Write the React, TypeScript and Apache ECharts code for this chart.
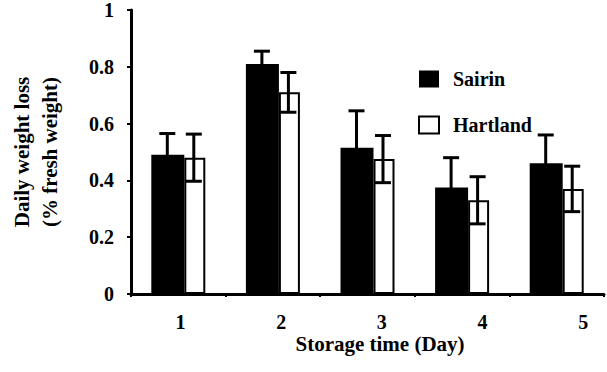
import React, { useEffect, useRef } from "react";
import * as echarts from "echarts";

// Storage days and daily weight loss (% fresh weight) per cultivar
const days = ["1", "2", "3", "4", "5"];
const sairin = [0.49, 0.81, 0.515, 0.375, 0.46];
const sairinErr = [0.075, 0.045, 0.13, 0.105, 0.1];
const hartland = [0.48, 0.71, 0.475, 0.33, 0.37];
const hartlandErr = [0.083, 0.07, 0.083, 0.083, 0.08];
// Y tick labels: the zero label sits on its tick, the others a little below theirs
const yZeroTick = [0];
const yUpperTicks = [0.2, 0.4, 0.6, 0.8, 1];

const FONT = "Liberation Serif";

function errorSeries(name: string, vals: number[], errs: number[], offset: number) {
  const data = vals.map((v, i) => [i, v - errs[i], v + errs[i]]);
  return {
    type: "custom",
    name: name + " SE",
    xAxisIndex: 0,
    yAxisIndex: 0,
    z: 10,
    silent: true,
    data,
    renderItem: (_params: any, api: any) => {
      const idx = api.value(0);
      const x = api.coord([idx, 0])[0] + offset;
      const yLow = api.coord([idx, api.value(1)])[1];
      const yHigh = api.coord([idx, api.value(2)])[1];
      const half = 8;
      const style = { stroke: "#000", lineWidth: 3 };
      return {
        type: "group",
        children: [
          { type: "line", shape: { x1: x, y1: yLow, x2: x, y2: yHigh }, style },
          { type: "line", shape: { x1: x - half, y1: yHigh, x2: x + half, y2: yHigh }, style },
          { type: "line", shape: { x1: x - half, y1: yLow, x2: x + half, y2: yLow }, style },
        ],
      };
    },
  };
}

export default function App() {
  const ref = useRef<HTMLDivElement>(null);

  useEffect(() => {
    if (!ref.current) return;
    const chart = echarts.init(ref.current, undefined, { renderer: "svg" });
    const labelStyle = { fontFamily: FONT, fontWeight: "bold", fontSize: 20, color: "#000" };
    // Day labels sit on a value scale of their own (0.5074 .. 5.207 across the plot width)
    const labelMin = 0.5074;
    const labelMax = 5.207;
    chart.setOption({
      animation: false,
      backgroundColor: "#fff",
      textStyle: { fontFamily: FONT },
      legend: {
        orient: "vertical",
        left: 418,
        top: 69,
        padding: 0,
        itemWidth: 20,
        itemHeight: 17,
        itemGap: 26,
        selectedMode: false,
        textStyle: { ...labelStyle, padding: [0, 0, 0, 9] },
        data: [
          { name: "Sairin", icon: "rect", itemStyle: { color: "#000", borderWidth: 0 } },
          { name: "Hartland", icon: "rect", itemStyle: { color: "#fff", borderColor: "#000", borderWidth: 2 } },
        ],
      },
      grid: { left: 127, right: 3, top: 8, bottom: 78, containLabel: false },
      xAxis: [
        {
          type: "category",
          data: days,
          axisLine: { lineStyle: { color: "#000", width: 3 } },
          axisTick: { show: true, length: 3, lineStyle: { color: "#000", width: 2 } },
          axisLabel: { show: false },
          name: "Storage time (Day)",
          nameLocation: "middle",
          nameGap: 39,
          nameTextStyle: {
            fontFamily: FONT,
            fontWeight: "bold",
            fontSize: 21,
            color: "#000",
            padding: [0, 0, 0, 25],
          },
        },
        {
          type: "value",
          position: "bottom",
          min: labelMin,
          max: labelMax,
          splitLine: { show: false },
          axisLine: { show: false },
          axisTick: { show: false },
          axisLabel: {
            ...labelStyle,
            margin: 18,
            customValues: days.map((d) => Number(d)),
            formatter: (v: number) => String(v),
          },
        },
      ],
      yAxis: [
        {
          type: "value",
          min: 0,
          max: 1,
          interval: 0.2,
          splitLine: { show: false },
          axisLine: { show: true, lineStyle: { color: "#000", width: 3 } },
          axisTick: { show: true, length: 4, lineStyle: { color: "#000", width: 2 } },
          axisLabel: { ...labelStyle, margin: 17, customValues: yZeroTick },
          name: "Daily weight loss\n(% fresh weight)",
          nameLocation: "middle",
          nameRotate: 90,
          nameGap: 67,
          nameTextStyle: {
            fontFamily: FONT,
            fontWeight: "bold",
            fontSize: 21,
            lineHeight: 28,
            color: "#000",
          },
        },
        {
          type: "value",
          position: "left",
          offset: 0,
          min: 0,
          max: 1,
          splitLine: { show: false },
          axisLine: { show: false },
          axisTick: { show: false },
          axisLabel: {
            ...labelStyle,
            margin: 17,
            padding: [20, 0, 0, 0],
            customValues: yUpperTicks,
          },
        },
      ],
      series: [
        {
          name: "Sairin",
          type: "bar",
          barWidth: 33,
          barGap: "0%",
          itemStyle: { color: "#000" },
          data: sairin,
        },
        {
          name: "Hartland",
          type: "bar",
          barWidth: 21,
          barGap: "0%",
          itemStyle: { color: "#fff", borderColor: "#000", borderWidth: 2 },
          data: hartland,
        },
        errorSeries("Sairin", sairin, sairinErr, -11),
        errorSeries("Hartland", hartland, hartlandErr, 15.5),
      ],
    });
    return () => chart.dispose();
  }, []);

  return (
    <div
      ref={ref}
      style={{ position: "fixed", left: 0, top: 0, width: 607, height: 372, background: "#fff" }}
    />
  );
}
